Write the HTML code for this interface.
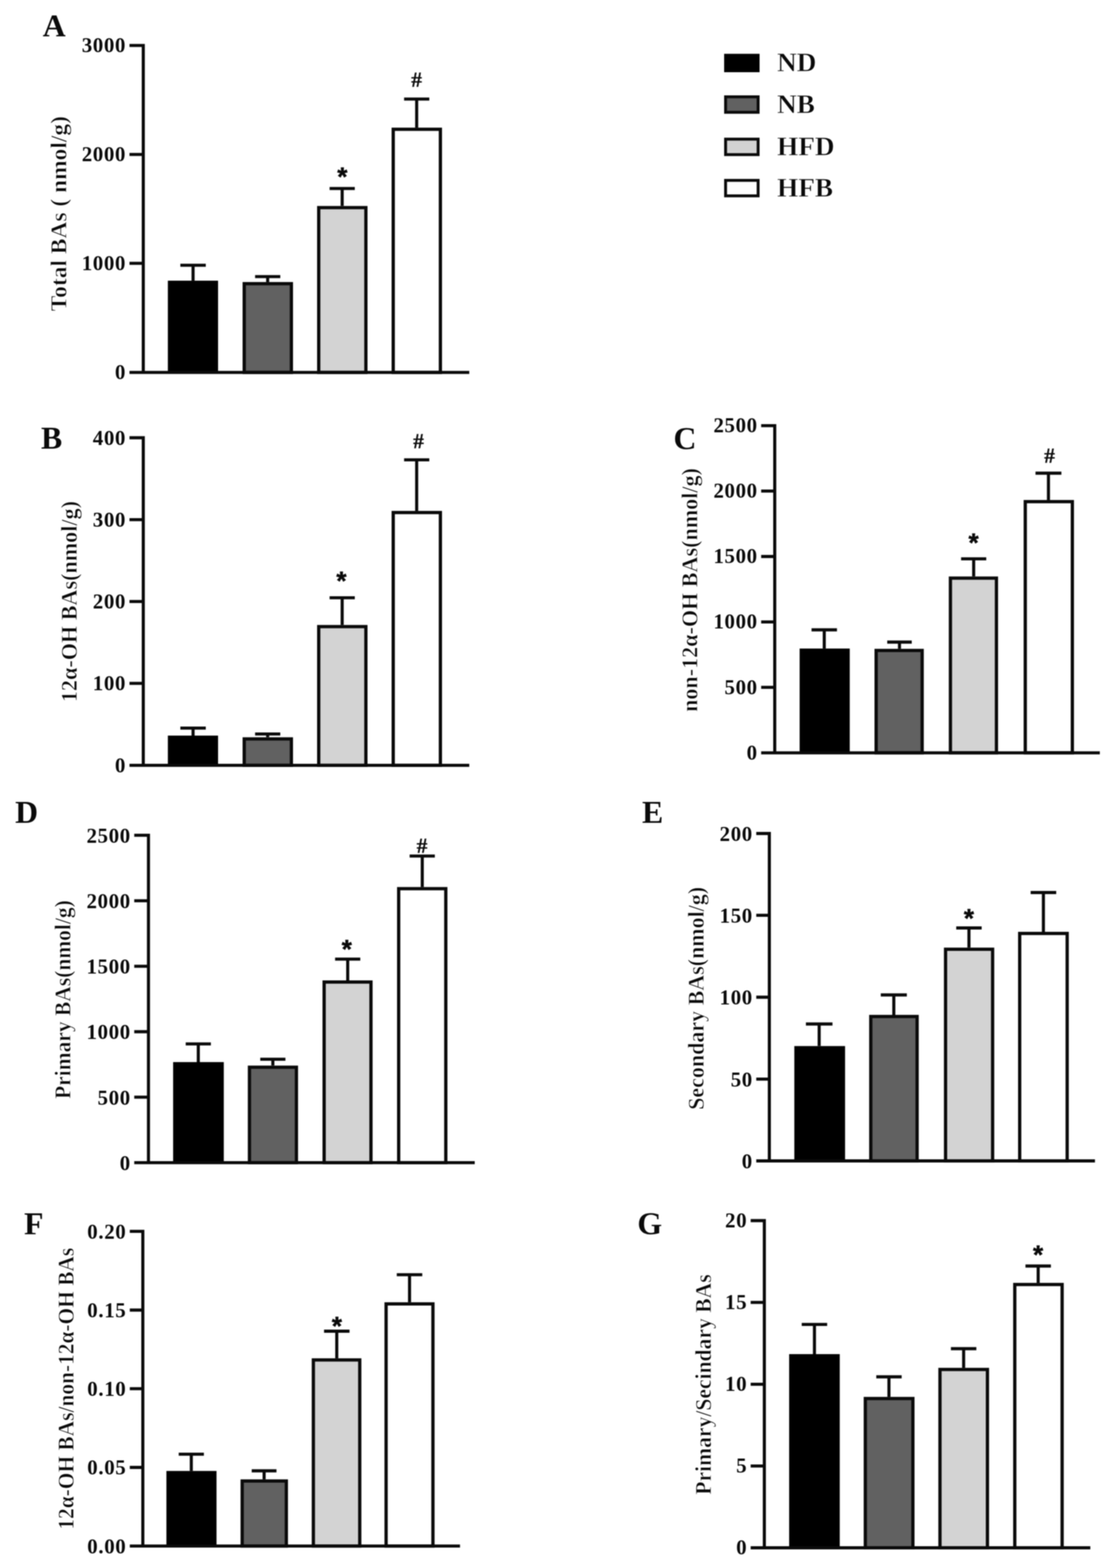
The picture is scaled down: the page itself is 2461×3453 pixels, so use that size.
<!DOCTYPE html>
<html lang="en"><head><meta charset="utf-8"><title>Bile acid profiles</title>
<style>
html,body{margin:0;padding:0;background:#fff;}
body{width:2461px;height:3453px;}
svg{display:block;filter:blur(1.1px);}
text{font-family:"Liberation Serif","DejaVu Serif",serif;font-weight:bold;fill:#0a0a0a;}
.tk{font-size:46px;text-anchor:end;letter-spacing:1.4px;}
.ti{font-size:50px;text-anchor:middle;stroke:#fff;stroke-width:1.1px;paint-order:fill stroke;}
.le{font-size:70px;}
.lg{font-size:60px;stroke:#fff;stroke-width:0.9px;paint-order:fill stroke;}
.sy{font-family:"Liberation Sans","DejaVu Sans",sans-serif;text-anchor:middle;stroke:#0a0a0a;stroke-width:1px;}
.sh{text-anchor:middle;stroke:#0a0a0a;stroke-width:0.6px;}
.ax{stroke:#0a0a0a;stroke-width:6.8;fill:none;stroke-linecap:butt;}
.er{stroke:#0a0a0a;stroke-width:6.8;fill:none;}
.br{stroke:#0a0a0a;stroke-width:7.2;}
</style></head><body>
<svg width="2461" height="3453" viewBox="0 0 2461 3453">
<rect width="2461" height="3453" fill="#fff"/>
<g id="panel-A">
<g transform="translate(0 1.1)">
<path class="er" d="M425 617V583M397 583H453"/>
<rect x="369.5" y="617" width="110.5" height="202" fill="#000000"/>
<path class="er" d="M589.2 620V608M561.5 608H617"/>
<rect class="br" x="537.6" y="623.6" width="103.8" height="195.4" fill="#616161"/>
<path class="er" d="M753.2 452.5V414M725.5 414H781"/>
<rect class="br" x="701.6" y="456.1" width="103.8" height="362.9" fill="#d3d3d3"/>
<path class="er" d="M917.2 280V217M889.5 217H945"/>
<rect class="br" x="865.6" y="283.6" width="103.8" height="535.4" fill="#ffffff"/>
<path class="ax" d="M315.4 95.6V822.4M285 819H1033M285 99H315.4M285 339H315.4M285 578.7H315.4"/>
</g>
<text class="tk" x="277.5" y="114.8">3000</text>
<text class="tk" x="277.5" y="354.8">2000</text>
<text class="tk" x="277.5" y="594.5">1000</text>
<text class="tk" x="277.5" y="834.8">0</text>
<text class="sy" x="753.5" y="408.9" font-size="57">*</text>
<text class="sh" x="917" y="191.2" font-size="47">#</text>
<text class="ti" transform="translate(146 470.6) rotate(-90)" textLength="430" lengthAdjust="spacingAndGlyphs">Total BAs ( nmol/g)</text>
<text class="le" x="94" y="79.5">A</text>
</g>
<g id="panel-B">
<g transform="translate(0 0.3)">
<path class="er" d="M425 1619.6V1603M397 1603H453"/>
<rect x="369.5" y="1619.6" width="110.5" height="65.4" fill="#000000"/>
<path class="er" d="M589.2 1623.3V1616M561.5 1616H617"/>
<rect class="br" x="537.6" y="1626.9" width="103.8" height="58.1" fill="#616161"/>
<path class="er" d="M753.2 1376V1316M725.5 1316H781"/>
<rect class="br" x="701.6" y="1379.6" width="103.8" height="305.4" fill="#d3d3d3"/>
<path class="er" d="M917.2 1124.8V1012.4M889.5 1012.4H945"/>
<rect class="br" x="865.6" y="1128.4" width="103.8" height="556.6" fill="#ffffff"/>
<path class="ax" d="M315.4 960.3V1688.4M285 1685H1033M285 963.7H315.4M285 1144H315.4M285 1324.3H315.4M285 1504.6H315.4"/>
</g>
<text class="tk" x="277.5" y="979.5">400</text>
<text class="tk" x="277.5" y="1159.8">300</text>
<text class="tk" x="277.5" y="1340.1">200</text>
<text class="tk" x="277.5" y="1520.4">100</text>
<text class="tk" x="277.5" y="1700.8">0</text>
<text class="sy" x="751.5" y="1298.7" font-size="57">*</text>
<text class="sh" x="921.3" y="987" font-size="47">#</text>
<text class="ti" transform="translate(169 1324.8) rotate(-90)" textLength="443" lengthAdjust="spacingAndGlyphs">12α-OH BAs(nmol/g)</text>
<text class="le" x="90.3" y="987.5">B</text>
</g>
<g id="panel-C">
<g transform="translate(0 1.0)">
<path class="er" d="M1814.4 1427.2V1386M1786.4 1386H1842.4"/>
<rect x="1760.2" y="1427.2" width="110.3" height="229.6" fill="#000000"/>
<path class="er" d="M1980 1427.8V1413M1953 1413H2007"/>
<rect class="br" x="1928.6" y="1431.4" width="101.3" height="225.4" fill="#616161"/>
<path class="er" d="M2143.3 1268.5V1229.6M2115.6 1229.6H2171"/>
<rect class="br" x="2092.1" y="1272.1" width="101.3" height="384.7" fill="#d3d3d3"/>
<path class="er" d="M2307.9 1100.1V1041M2279.4 1041H2336.4"/>
<rect class="br" x="2256.9" y="1103.7" width="103.6" height="553.1" fill="#ffffff"/>
<path class="ax" d="M1705.4 932.9V1660.2M1675.5 1656.8H2421M1675.5 936.3H1705.4M1675.5 1080.4H1705.4M1675.5 1224.5H1705.4M1675.5 1368.6H1705.4M1675.5 1512.7H1705.4"/>
</g>
<text class="tk" x="1668" y="952.1">2500</text>
<text class="tk" x="1668" y="1096.2">2000</text>
<text class="tk" x="1668" y="1240.3">1500</text>
<text class="tk" x="1668" y="1384.4">1000</text>
<text class="tk" x="1668" y="1528.5">500</text>
<text class="tk" x="1668" y="1672.6">0</text>
<text class="sy" x="2143.1" y="1214.6" font-size="57">*</text>
<text class="sh" x="2310.2" y="1019.4" font-size="47">#</text>
<text class="ti" transform="translate(1535 1299.3) rotate(-90)" textLength="537" lengthAdjust="spacingAndGlyphs">non-12α-OH BAs(nmol/g)</text>
<text class="le" x="1482.6" y="989">C</text>
</g>
<g id="panel-D">
<g transform="translate(0 -0.6)">
<path class="er" d="M436.5 2339.5V2299.5M408.8 2299.5H464.2"/>
<rect x="381.1" y="2339.5" width="111.5" height="221.5" fill="#000000"/>
<path class="er" d="M600.6 2347.2V2333.3M572.9 2333.3H628.3"/>
<rect class="br" x="549.1" y="2350.8" width="103.4" height="210.2" fill="#616161"/>
<path class="er" d="M765.4 2159.6V2112.8M737.6 2112.8H793.1"/>
<rect class="br" x="713.5" y="2163.2" width="103.1" height="397.8" fill="#d3d3d3"/>
<path class="er" d="M929.5 1954V1885.8M901.7 1885.8H957.2"/>
<rect class="br" x="877.6" y="1957.6" width="103.7" height="603.4" fill="#ffffff"/>
<path class="ax" d="M326.8 1836.6V2564.4M295.5 2561H1045M295.5 1840H326.8M295.5 1984.2H326.8M295.5 2128.4H326.8M295.5 2272.6H326.8M295.5 2416.8H326.8"/>
</g>
<text class="tk" x="288" y="1855.8">2500</text>
<text class="tk" x="288" y="2000">2000</text>
<text class="tk" x="288" y="2144.2">1500</text>
<text class="tk" x="288" y="2288.4">1000</text>
<text class="tk" x="288" y="2432.6">500</text>
<text class="tk" x="288" y="2576.8">0</text>
<text class="sy" x="763.3" y="2110.4" font-size="57">*</text>
<text class="sh" x="929.1" y="1878.3" font-size="47">#</text>
<text class="ti" transform="translate(155.4 2201.3) rotate(-90)" textLength="437.5" lengthAdjust="spacingAndGlyphs">Primary BAs(nmol/g)</text>
<text class="le" x="33.3" y="1812">D</text>
</g>
<g id="panel-E">
<g transform="translate(0 -0.5)">
<path class="er" d="M1803.2 2304.1V2255.5M1774 2255.5H1832.5"/>
<rect x="1748.5" y="2304.1" width="111.7" height="252.9" fill="#000000"/>
<path class="er" d="M1967.5 2235.4V2191.5M1938.8 2191.5H1996.2"/>
<rect class="br" x="1916.8" y="2239" width="102" height="318" fill="#616161"/>
<path class="er" d="M2132.9 2087.3V2044M2104.9 2044H2160.9"/>
<rect class="br" x="2081.4" y="2090.9" width="103.6" height="466.1" fill="#d3d3d3"/>
<path class="er" d="M2296.8 2052.5V1966M2268.7 1966H2325"/>
<rect class="br" x="2244.6" y="2056.1" width="104.5" height="500.9" fill="#ffffff"/>
<path class="ax" d="M1693.5 1832.6V2560.4M1664.7 2557H2410.3M1664.7 1836H1693.5M1664.7 2016.2H1693.5M1664.7 2196.5H1693.5M1664.7 2376.8H1693.5"/>
</g>
<text class="tk" x="1657.2" y="1851.8">200</text>
<text class="tk" x="1657.2" y="2032">150</text>
<text class="tk" x="1657.2" y="2212.3">100</text>
<text class="tk" x="1657.2" y="2392.6">50</text>
<text class="tk" x="1657.2" y="2572.8">0</text>
<text class="sy" x="2132.8" y="2042" font-size="57">*</text>
<text class="ti" transform="translate(1549 2198.6) rotate(-90)" textLength="491" lengthAdjust="spacingAndGlyphs">Secondary BAs(nmol/g)</text>
<text class="le" x="1413.3" y="1811.5">E</text>
</g>
<g id="panel-F">
<g transform="translate(0 0)">
<path class="er" d="M421.1 3239.3V3202.4M393.4 3202.4H448.8"/>
<rect x="366.3" y="3239.3" width="110.3" height="165.4" fill="#000000"/>
<path class="er" d="M581.4 3257.8V3239M554.1 3239H608.6"/>
<rect class="br" x="533.1" y="3261.4" width="97.2" height="143.3" fill="#616161"/>
<path class="er" d="M741.3 2991.2V2931.5M713.3 2931.5H769.4"/>
<rect class="br" x="689.8" y="2994.8" width="102.1" height="409.9" fill="#d3d3d3"/>
<path class="er" d="M901.5 2867.8V2807.2M873.4 2807.2H929.5"/>
<rect class="br" x="849.9" y="2871.4" width="103.1" height="533.3" fill="#ffffff"/>
<path class="ax" d="M314.4 2708.3V3408.1M285.7 3404.7H1012.6M285.7 2711.7H314.4M285.7 2885H314.4M285.7 3058.2H314.4M285.7 3231.5H314.4"/>
</g>
<text class="tk" x="278.2" y="2727.5">0.20</text>
<text class="tk" x="278.2" y="2900.8">0.15</text>
<text class="tk" x="278.2" y="3074">0.10</text>
<text class="tk" x="278.2" y="3247.3">0.05</text>
<text class="tk" x="278.2" y="3420.5">0.00</text>
<text class="sy" x="741.5" y="2939.8" font-size="57">*</text>
<text class="ti" transform="translate(161.6 3058.2) rotate(-90)" textLength="620.8" lengthAdjust="spacingAndGlyphs">12α-OH BAs/non-12α-OH BAs</text>
<text class="le" x="53.1" y="2718">F</text>
</g>
<g id="panel-G">
<g transform="translate(0 1.0)">
<path class="er" d="M1792.8 2981V2915.6M1764.8 2915.6H1820.8"/>
<rect x="1737.1" y="2981" width="111.4" height="426.5" fill="#000000"/>
<path class="er" d="M1956.8 3075.2V3031M1928.9 3031H1984.8"/>
<rect class="br" x="1904.8" y="3078.8" width="104.7" height="328.7" fill="#616161"/>
<path class="er" d="M2121.2 3011.2V2969M2093.2 2969H2149.2"/>
<rect class="br" x="2069.1" y="3014.8" width="104.5" height="392.7" fill="#d3d3d3"/>
<path class="er" d="M2285.3 2824.1V2787M2257.3 2787H2313.3"/>
<rect class="br" x="2233.8" y="2827.7" width="104.2" height="579.8" fill="#ffffff"/>
<path class="ax" d="M1682.5 2683.6V3410.9M1652.4 3407.5H2400.1M1652.4 2687H1682.5M1652.4 2867.1H1682.5M1652.4 3047.3H1682.5M1652.4 3227.4H1682.5"/>
</g>
<text class="tk" x="1644.9" y="2702.8">20</text>
<text class="tk" x="1644.9" y="2882.9">15</text>
<text class="tk" x="1644.9" y="3063.1">10</text>
<text class="tk" x="1644.9" y="3243.2">5</text>
<text class="tk" x="1644.9" y="3423.3">0</text>
<text class="sy" x="2285.1" y="2783.1" font-size="57">*</text>
<text class="ti" transform="translate(1565 3049) rotate(-90)" textLength="485.3" lengthAdjust="spacingAndGlyphs">Primary/Secindary BAs</text>
<text class="le" x="1403" y="2717.5">G</text>
</g>
<g id="legend">
<rect x="1594" y="118.5" width="78" height="40.5" fill="#000"/>
<text class="lg" x="1710.5" y="157">ND</text>
<rect class="br" style="stroke-width:6.4" x="1597.2" y="213.2" width="71.6" height="34.1" fill="#616161"/>
<text class="lg" x="1710.5" y="248.5">NB</text>
<rect class="br" style="stroke-width:6.4" x="1597.2" y="306.4" width="71.6" height="34.1" fill="#d3d3d3"/>
<text class="lg" x="1710.5" y="341.7">HFD</text>
<rect class="br" style="stroke-width:6.4" x="1597.2" y="397.2" width="71.6" height="34.1" fill="#ffffff"/>
<text class="lg" x="1710.5" y="432.5">HFB</text>
</g>
</svg></body></html>
